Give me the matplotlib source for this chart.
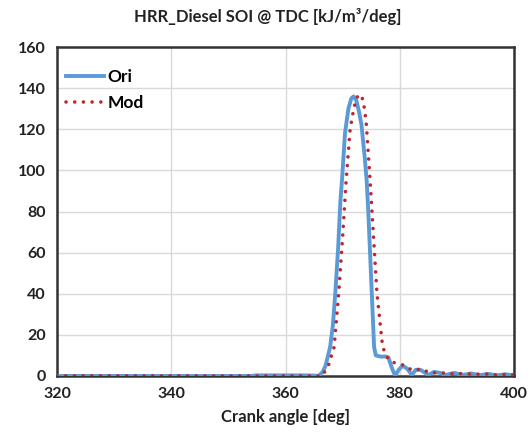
import matplotlib.pyplot as plt

plt.rcParams['font.family'] = ['Lato', 'DejaVu Sans']

# Heat release rate, Ori
ori_ca = [320, 354, 355, 363, 365, 365.8, 366.5, 367, 367.8, 368.3, 368.7, 369.2,
          369.6, 369.9, 370.4, 371, 371.5, 371.9, 372.4, 372.9, 373.3, 373.9, 374.2,
          374.5, 375.1, 375.5, 375.8, 376.7, 377.5, 378.0, 378.6, 379.2, 379.8, 380.5,
          381.3, 382.1, 382.8, 383.6, 385, 386, 387, 388, 389.5, 391, 392.5, 394,
          395.5, 397, 398.5, 400]
ori_hrr = [0, 0, 0.3, 0.3, 0.2, 0, 2, 5, 14, 25, 40, 62,
           85, 96, 118, 130, 135, 136, 134, 128, 122, 105, 95,
           79, 40, 14, 10, 9.4, 9.5, 9, 4, 0, 3, 5,
           3.5, 0.5, 3, 3, 0.5, 2, 1.5, 0.5, 1.5, 0.5, 1.2, 0.4,
           1, 0.3, 0.8, 0.3]

# Heat release rate, Mod
mod_ca = [320, 366.4, 367.5, 368.5, 369.3, 370, 370.6, 371.3, 372, 372.6, 373.1,
          373.6, 374.1, 374.8, 375, 376, 377, 378, 379, 379.7, 381, 382, 383, 384,
          385, 386, 387.5, 389, 391, 393, 395, 397, 399, 400]
mod_hrr = [0.1, 0, 5, 14, 40, 68, 95, 120, 131, 136, 137,
           134, 124, 95, 86, 40, 14, 8, 6.5, 6, 5, 3, 3.5, 2,
           2.5, 1.5, 1.5, 1, 1.2, 0.8, 1, 0.5, 0.8, 0.5]

fig = plt.figure(figsize=(5.3, 4.4), dpi=100)
ax = fig.add_axes([0.1075, 0.1455, 0.8625, 0.7475])

ax.plot(ori_ca, ori_hrr, color='#5b9bd5', lw=2.8, label='Ori', zorder=3)
ax.plot(mod_ca, mod_hrr, color='#c0272d', lw=2.6, ls=(0, (0.01, 2.4)),
        dash_capstyle='round', label='Mod', zorder=4)

ax.set_xlim(320, 400)
ax.set_ylim(0, 160)
ax.set_xticks(range(320, 401, 20))
ax.set_yticks(range(0, 161, 20))
ax.grid(True, color='#d9d9d9', lw=1)
ax.set_axisbelow(True)
ax.tick_params(length=0, pad=8, labelsize=11.5, labelcolor='#222222')
for lab in ax.get_xticklabels() + ax.get_yticklabels():
    lab.set_fontweight('bold')
for s in ax.spines.values():
    s.set_color('#333333')
    s.set_linewidth(1.8)

ax.set_xlabel('Crank angle [deg]', fontsize=12, fontweight='bold', color='#222222', labelpad=6)
fig.text(0.505, 0.962, 'HRR_Diesel SOI @ TDC [kJ/m³/deg]', ha='center', va='center',
         fontsize=12, fontweight='bold', color='#222222')

leg = ax.legend(loc='upper left', bbox_to_anchor=(0.005, 0.955), frameon=False,
                fontsize=12.5, handlelength=2.2, handletextpad=0.2,
                borderaxespad=0, labelspacing=0.6)
for t in leg.get_texts():
    t.set_fontweight('bold')

fig.savefig('out.png', dpi=100)
